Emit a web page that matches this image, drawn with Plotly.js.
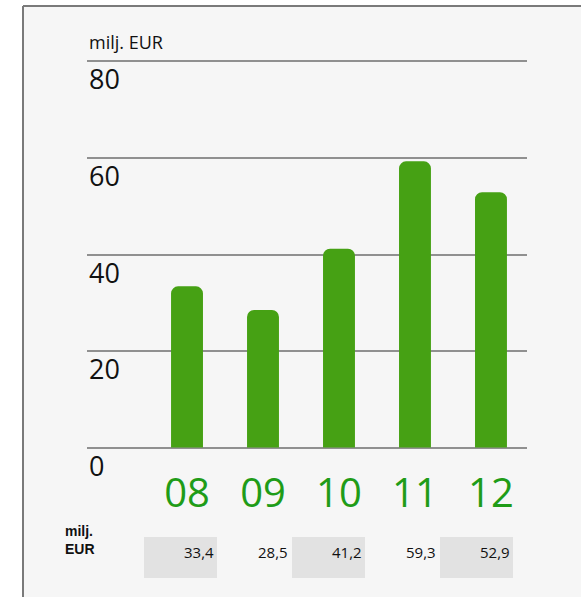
<!DOCTYPE html>
<html>
<head>
<meta charset="utf-8">
<script src="https://cdn.plot.ly/plotly-3.0.1.min.js"></script>
<style>html,body{margin:0;padding:0;background:#fff;}</style>
</head>
<body>
<div id="chart" style="width:581px;height:597px;"></div>
<script>
const years = ['08', '09', '10', '11', '12'];
const values = [33.4, 28.5, 41.2, 59.3, 52.9];
const valueLabels = ['33,4', '28,5', '41,2', '59,3', '52,9'];
const yTicks = [0, 20, 40, 60, 80];
const unitLabel = 'milj. EUR';
const tableUnit = 'milj.<br>EUR';

const W = 581, H = 597;
const m = {l: 87, r: 54, t: 59, b: 147};
const pw = W - m.l - m.r, ph = H - m.t - m.b;
const px = v => (v - m.l) / pw;
const py = v => (H - m.b - v) / ph;

const shapes = [
  {type: 'rect', xref: 'paper', yref: 'paper', x0: px(0), x1: px(W), y0: py(0), y1: py(6), fillcolor: '#ffffff', line: {width: 0}, layer: 'below'},
  {type: 'rect', xref: 'paper', yref: 'paper', x0: px(0), x1: px(23), y0: py(0), y1: py(H), fillcolor: '#ffffff', line: {width: 0}, layer: 'below'},
  {type: 'line', xref: 'paper', yref: 'paper', x0: px(23), x1: px(23), y0: py(6), y1: py(H), line: {color: '#7a7a7a', width: 2}, layer: 'below'},
  {type: 'line', xref: 'paper', yref: 'paper', x0: px(23), x1: px(W), y0: py(6), y1: py(6), line: {color: '#7a7a7a', width: 2}, layer: 'below'}
];

const annotations = [];
yTicks.forEach(t => {
  annotations.push({xref: 'paper', yref: 'y', x: 0, y: t, xanchor: 'left', yanchor: 'top', yshift: 3,
    text: String(t), showarrow: false, font: {family: 'Open Sans', size: 27, color: '#111'}});
});
annotations.push({xref: 'paper', yref: 'paper', x: 0, y: py(42), xanchor: 'left', yanchor: 'middle',
  text: unitLabel, showarrow: false, font: {family: 'Open Sans', size: 18, color: '#111'}});
annotations.push({xref: 'paper', yref: 'paper', x: px(63), y: py(540), xanchor: 'left', yanchor: 'middle', align: 'left',
  text: '<b>' + tableUnit + '</b>', showarrow: false, font: {family: 'Liberation Sans Narrow, Liberation Sans', size: 14, color: '#111'}});

const cellLeft = 144, cellPitch = 74, cellW = 73;
years.forEach((yr, i) => {
  const x0 = cellLeft + cellPitch * i;
  if (i % 2 === 0) {
    shapes.push({type: 'rect', xref: 'paper', yref: 'paper', x0: px(x0), x1: px(x0 + cellW), y0: py(578), y1: py(537),
      fillcolor: '#e2e2e2', line: {width: 0}, layer: 'below'});
  }
  annotations.push({xref: 'paper', yref: 'paper', x: px(x0 + cellW - 1), y: py(552), xanchor: 'right', yanchor: 'middle',
    text: valueLabels[i], showarrow: false, font: {family: 'Open Sans', size: 15, color: '#111'}});
});

const data = [{
  type: 'bar', x: years, y: values, width: 0.42,
  marker: {color: '#46a114', cornerradius: 7, line: {width: 0}},
  hoverinfo: 'skip'
}];

const layout = {
  width: W, height: H,
  margin: m,
  paper_bgcolor: '#f6f6f6',
  plot_bgcolor: 'rgba(0,0,0,0)',
  showlegend: false,
  xaxis: {
    type: 'category', range: [-1.316, 4.474], showgrid: false, zeroline: false, showline: false,
    ticks: '', ticklabelstandoff: 16,
    tickfont: {family: 'Open Sans', size: 40, color: '#1f9c18'}, fixedrange: true
  },
  yaxis: {
    range: [-0.5, 80.5], tickvals: yTicks, showticklabels: false, showgrid: true,
    gridcolor: '#909090', gridwidth: 2, zeroline: false, showline: false, fixedrange: true
  },
  shapes: shapes,
  annotations: annotations
};

Plotly.newPlot('chart', data, layout, {displayModeBar: false, staticPlot: true});
</script>
</body>
</html>
